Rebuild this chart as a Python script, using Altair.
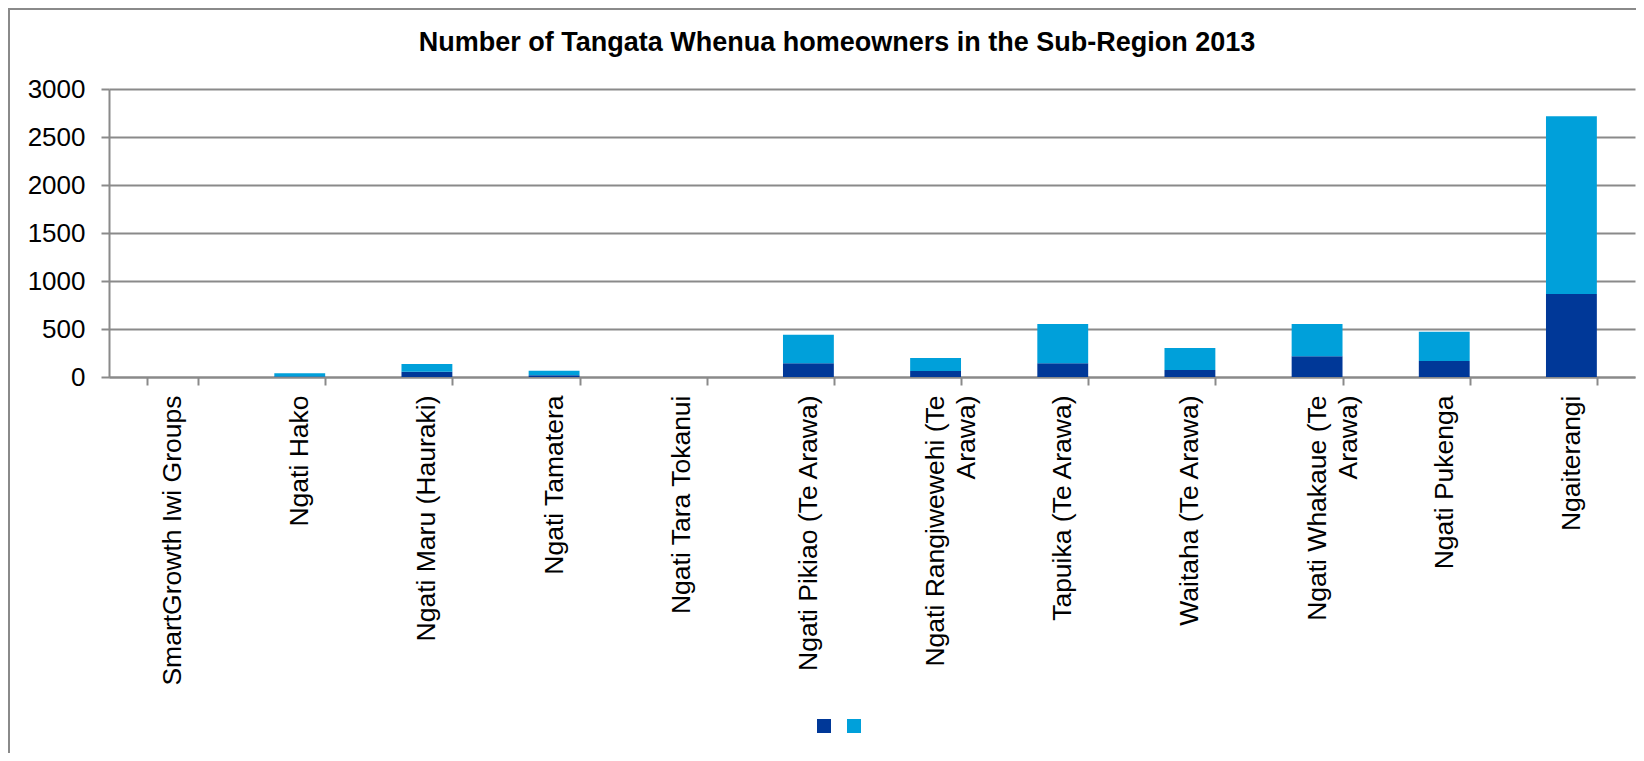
import altair as alt
import pandas as pd

# ---- data ----
groups = [
    "SmartGrowth Iwi Groups",
    "Ngati Hako",
    "Ngati Maru (Hauraki)",
    "Ngati Tamatera",
    "Ngati Tara Tokanui",
    "Ngati Pikiao (Te Arawa)",
    "Ngati Rangiwewehi (Te Arawa)",
    "Tapuika (Te Arawa)",
    "Waitaha (Te Arawa)",
    "Ngati Whakaue (Te Arawa)",
    "Ngati Pukenga",
    "Ngaiterangi",
]
series_names = ["Series 1", "Series 2"]
series1 = [0, 5, 55, 17, 0, 142, 62, 142, 73, 215, 167, 865]
series2 = [0, 35, 80, 49, 0, 299, 136, 410, 229, 337, 305, 1850]
colors = ["#003898", "#00A0DA"]
title_text = "Number of Tangata Whenua homeowners in the Sub-Region 2013"
y_ticks = [0, 500, 1000, 1500, 2000, 2500, 3000]

rows = []
for g, a, b in zip(groups, series1, series2):
    rows.append({"group": g, "series": series_names[0], "value": a, "ord": 0})
    rows.append({"group": g, "series": series_names[1], "value": b, "ord": 1})
df = pd.DataFrame(rows)

FONT = "Liberation Sans"
W, H = 1526, 288

label_expr = (
    "datum.label == 'Ngati Rangiwewehi (Te Arawa)' ? ['Ngati Rangiwewehi (Te', 'Arawa)'] : "
    "datum.label == 'Ngati Whakaue (Te Arawa)' ? ['Ngati Whakaue (Te', 'Arawa)'] : datum.label"
)

bars = alt.Chart(df).mark_bar().encode(
    x=alt.X(
        "group:N",
        sort=groups,
        title=None,
        scale=alt.Scale(paddingInner=0.6, paddingOuter=0.3),
        axis=alt.Axis(
            labelAngle=270,
            labelFontSize=26.5,
            labelFont=FONT,
            labelColor="#000000",
            labelPadding=10,
            labelLineHeight=31,
            labelExpr=label_expr,
            tickBand="extent",
            tickSize=8,
            tickColor="#8A8A8A",
            tickWidth=2,
            domainColor="#8A8A8A",
            domainWidth=2,
            grid=False,
            labelLimit=0,
        ),
    ),
    y=alt.Y(
        "value:Q",
        stack="zero",
        title=None,
        scale=alt.Scale(domain=[0, 3000], nice=False),
        axis=alt.Axis(
            values=y_ticks,
            format="d",
            labelFontSize=26,
            labelFont=FONT,
            labelColor="#000000",
            labelPadding=16,
            tickSize=8,
            tickColor="#8A8A8A",
            tickWidth=2,
            domainColor="#8A8A8A",
            domainWidth=2,
            grid=True,
            gridColor="#8A8A8A",
            gridWidth=2,
        ),
    ),
    color=alt.Color(
        "series:N",
        scale=alt.Scale(domain=series_names, range=colors),
        legend=alt.Legend(
            orient="none",
            legendX=708,
            legendY=630,
            direction="horizontal",
            title=None,
            labelExpr="''",
            symbolType="square",
            symbolSize=196,
            symbolStrokeWidth=0,
            symbolOpacity=1,
            columnPadding=16,
            labelOffset=0,
            padding=0,
        ),
    ),
    order=alt.Order("ord:Q"),
)

border = alt.Chart(alt.Data(values=[{}])).mark_rect(
    fill=None, stroke="#8A8A8A", strokeWidth=2
).encode(
    x=alt.value(-100), x2=alt.value(1700), y=alt.value(-80), y2=alt.value(800)
)

title = alt.Chart(alt.Data(values=[{}])).mark_text(
    text=title_text, font=FONT, fontSize=27, fontWeight="bold", color="#000000",
    align="center", baseline="middle"
).encode(x=alt.value(728), y=alt.value(-46))

chart = alt.layer(border, bars, title).properties(
    width=W,
    height=H,
    autosize=alt.AutoSizeParams(type="none"),
    padding={"left": 101, "top": 81, "right": 1, "bottom": 376},
).configure_view(stroke=None)

chart.save("out.html", embed_options={"renderer": "svg", "actions": False})
